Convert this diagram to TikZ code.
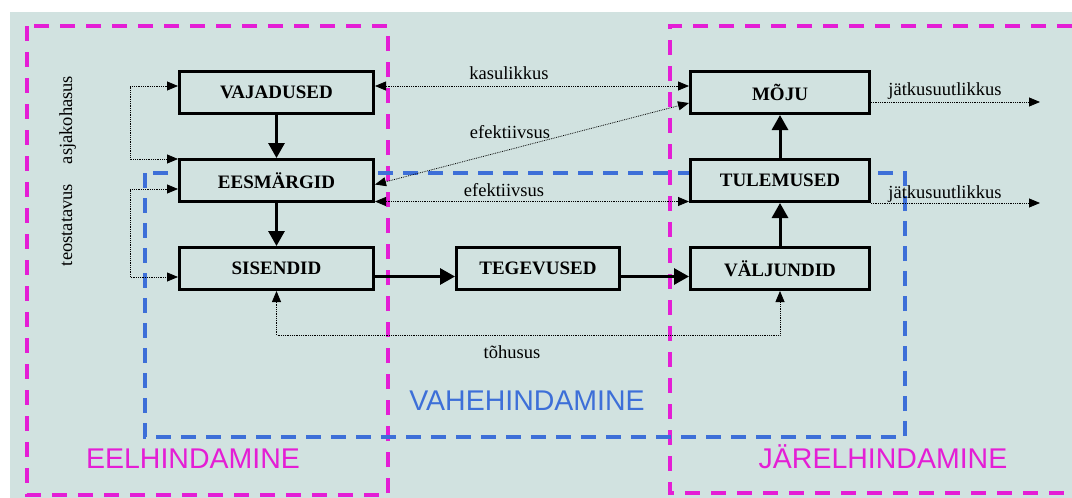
\documentclass[tikz,border=0pt]{standalone}
\usepackage{fontspec}
\setmainfont{Liberation Serif}
\newfontfamily\hindfont{Liberation Sans}
\usepackage{tikz}
\usetikzlibrary{arrows.meta}

\definecolor{bgteal}{HTML}{D1E2E0}
\definecolor{eelmagenta}{HTML}{E41ED5}
\definecolor{vaheblue}{HTML}{3D6FD8}

\tikzset{
    stagebox/.style={draw, line width=3pt, fill=bgteal, minimum height=42pt, inner sep=0pt,
        font=\fontsize{19}{22}\selectfont\bfseries},
    flow/.style={line width=3pt, ->, >={Triangle[length=15pt,width=16pt]}},
    link/.style={densely dotted, line width=0.8pt, >={Triangle[length=11pt,width=9pt]}},
    note/.style={font=\fontsize{18.5}{21}\selectfont, inner sep=0pt, anchor=base},
    phase/.style={font=\hindfont\fontsize{28.5}{32}\selectfont, inner sep=0pt, anchor=base},
    eelframe/.style={draw=eelmagenta, line width=4pt, dash pattern=on 15pt off 11pt},
    vaheframe/.style={draw=vaheblue, line width=3.5pt, dash pattern=on 15pt off 10pt}
}

\begin{document}
\begin{tikzpicture}[x=1pt, y=-1pt]
    \useasboundingbox (0,0) rectangle (1072,498);
    \fill [white] (0,0) rectangle (1072,498);
    \fill [bgteal] (10,12) rectangle (1072,498);

    % hindamise etapid
    \draw [eelframe] (27,26) rectangle (388,495);
    \draw [eelframe] (1072,26) -- (670,26) -- (670,493) -- (1072,493);
    \draw [vaheframe] (145,173) rectangle (905,437);

    \node [stagebox, minimum width=194pt] (vaj) at (276.5,92.5) {VAJADUSED};
    \node [stagebox, minimum width=194pt] (ees) at (276.5,180.5) {EESMÄRGID};
    \node [stagebox, minimum width=194pt] (sis) at (276.5,268.5) {SISENDID};
    \node [stagebox, minimum width=163pt] (teg) at (538,268.5) {TEGEVUSED};
    \node [stagebox, minimum width=179pt] (val) at (780,268.5) {VÄLJUNDID};
    \node [stagebox, minimum width=179pt] (tul) at (780,180.5) {TULEMUSED};
    \node [stagebox, minimum width=179pt] (moju) at (780,92.5) {MÕJU};

    \draw [flow] (vaj) -- (ees);
    \draw [flow] (ees) -- (sis);
    \draw [flow] ([yshift=-8pt]sis.east) -- ([yshift=-8pt]teg.west);
    \draw [flow] ([yshift=-8pt]teg.east) -- ([yshift=-8pt]val.west);
    \draw [flow] (val) -- (tul);
    \draw [flow] (tul) -- (moju);

    % hindamiskriteeriumid
    \draw [link, <->] ([yshift=6.5pt]vaj.west) -- ++(-48pt,0) |- ([yshift=21.5pt]ees.west);
    \draw [link, <->] ([yshift=-8.5pt]ees.west) -- ++(-48pt,0) |- ([yshift=-8.5pt]sis.west);
    \draw [link, <->] ([yshift=6.5pt]vaj.east) -- ([yshift=6.5pt]moju.west);
    \draw [link, <->] ([yshift=-4pt]ees.east) -- ([yshift=-10.5pt]moju.west);
    \draw [link, <->] ([yshift=-21pt]ees.east) -- ([yshift=-21pt]tul.west);
    \draw [link, <->] (sis.south) -- ++(0,44) -| (val.south);
    \coordinate (kestvus1) at (1040,102);
    \coordinate (kestvus2) at (1040,203);
    \draw [link, ->] (moju.east |- kestvus1) -- (kestvus1);
    \draw [link, ->] (tul.east |- kestvus2) -- (kestvus2);

    \node [note, rotate=90] (asja) at (72,120) {asjakohasus};
    \node [note, rotate=90] (teost) at (72,225) {teostatavus};
    \node [note] (kasul) at (509,79) {kasulikkus};
    \node [note] (efekt1) at (510,138) {efektiivsus};
    \node [note] (efekt2) at (504,196) {efektiivsus};
    \node [note] (jatk1) at (945,95) {jätkusuutlikkus};
    \node [note] (jatk2) at (945,198) {jätkusuutlikkus};
    \node [note] (tohus) at (512,358) {tõhusus};

    \node [phase, text=eelmagenta] (eel) at (193,468) {EELHINDAMINE};
    \node [phase, text=vaheblue] (vahe) at (527,410) {VAHEHINDAMINE};
    \node [phase, text=eelmagenta] (jarel) at (883,468) {JÄRELHINDAMINE};
\end{tikzpicture}
\end{document}
